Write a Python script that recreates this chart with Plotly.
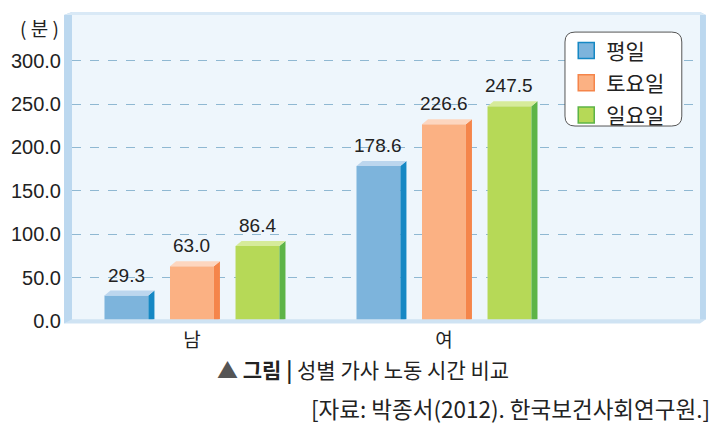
import plotly.graph_objects as go

groups = ["남", "여"]
series = ["평일", "토요일", "일요일"]
values = {
    "평일": [29.3, 178.6],
    "토요일": [63.0, 226.6],
    "일요일": [86.4, 247.5],
}
y_ticks = [0, 50, 100, 150, 200, 250, 300]

front = {"평일": "#7db4dc", "토요일": "#fbb183", "일요일": "#b6d957"}
side = {"평일": "#1688c4", "토요일": "#f5854a", "일요일": "#5db447"}
top = {"평일": "#bcd6ee", "토요일": "#fdd6bf", "일요일": "#d6eb9a"}

FONT = "Liberation Sans, Noto Sans CJK KR, sans-serif"
KFONT = "Noto Sans CJK KR, sans-serif"

bargap, groupgap = 0.22, 0.33
slot = (1 - bargap) / 3
bw = slot * (1 - groupgap)
dx, dy = 0.024, 5.8

fig = go.Figure()
xs = list(range(len(groups)))
for i, s in enumerate(series):
    fig.add_trace(go.Bar(
        name=s, x=xs, y=values[s], marker_color=front[s],
        marker_line_width=0, hoverinfo="skip", showlegend=False,
    ))

# 3D faces and value labels
for i, s in enumerate(series):
    for g, v in zip(xs, values[s]):
        c = g + (i - 1) * slot
        xl, xr = c - bw / 2, c + bw / 2
        fig.add_trace(go.Scatter(
            x=[xr, xr + dx, xr + dx, xr, xr], y=[0, dy * 0.3, v + dy, v, 0],
            fill="toself", fillcolor=side[s], line_width=0, mode="lines",
            showlegend=False, hoverinfo="skip"))
        fig.add_trace(go.Scatter(
            x=[xl, xl + dx, xr + dx, xr, xl], y=[v, v + dy, v + dy, v, v],
            fill="toself", fillcolor=top[s], line_width=0, mode="lines",
            showlegend=False, hoverinfo="skip"))
        fig.add_annotation(x=c, y=v + dy, text=f"{v:.1f}", showarrow=False,
                           yanchor="bottom", yshift=3,
                           font=dict(size=19, color="#222", family=FONT))

# legend entries
for s in series:
    fig.add_trace(go.Scatter(
        x=[None], y=[None], mode="markers", name=s, legendgroup=s,
        marker=dict(symbol="square", size=16, color=front[s],
                    line=dict(color=side[s], width=1.5))))

wall = "#bcd8ef"
shapes = [
    # left wall
    dict(type="path", xref="paper", yref="paper",
         path="M -0.0127,-0.008 L -0.0127,0.99 L 0,1 L 0,0 Z",
         fillcolor=wall, line_width=0, layer="below"),
    # right edge
    dict(type="path", xref="paper", yref="paper",
         path="M 1,0 L 1,1 L 1.0095,0.99 L 1.0095,0.005 Z",
         fillcolor=wall, line_width=0, layer="below"),
    # top edge
    dict(type="path", xref="paper", yref="paper",
         path="M -0.0127,0.99 L 0,1 L 1,1 L 1.0095,0.99 Z",
         fillcolor="#d9e9f6", line_width=0, layer="below"),
    # floor
    dict(type="path", xref="paper", yref="paper",
         path="M -0.0127,-0.008 L 1.0,-0.008 L 1.0095,0.006 L 0,0.006 Z",
         fillcolor="#cfe3f3", line_width=0, layer="above"),
    # legend box
    dict(type="path", xref="paper", yref="paper",
         path="M 0.801,0.935 L 0.955,0.935 Q 0.971,0.935 0.971,0.903 "
              "L 0.971,0.663 Q 0.971,0.631 0.955,0.631 L 0.801,0.631 "
              "Q 0.785,0.631 0.785,0.663 L 0.785,0.903 Q 0.785,0.935 0.801,0.935 Z",
         fillcolor="white", line=dict(color="#555", width=1), layer="above"),
]

# the page body has an 8px margin, so the figure is 8px smaller
fig.update_layout(
    width=720, height=427,
    margin=dict(l=64, r=28, t=4, b=114),
    paper_bgcolor="white", plot_bgcolor="#eef6fc",
    barmode="group", bargap=bargap, bargroupgap=groupgap,
    shapes=shapes,
    showlegend=True,
    legend=dict(x=0.787, y=0.941, xanchor="left", yanchor="top",
                bgcolor="rgba(0,0,0,0)", borderwidth=0,
                font=dict(size=21, color="#222", family=KFONT),
                itemsizing="trace", traceorder="grouped", tracegroupgap=2,
                itemwidth=30),
    xaxis=dict(range=[-0.476, 2.016], tickvals=xs, ticktext=groups,
               showgrid=False, zeroline=False, showline=False,
               ticks="", ticklabelstandoff=6,
               tickfont=dict(size=19, color="#222", family=KFONT), fixedrange=True),
    yaxis=dict(range=[0, 356], tickvals=y_ticks,
               ticktext=[f"{t:.1f}" for t in y_ticks],
               showgrid=True, gridcolor="#8fb8d2", griddash="dash", gridwidth=1,
               zeroline=False, showline=False, ticks="", ticklabelstandoff=10,
               tickfont=dict(size=20, color="#222", family=FONT), fixedrange=True),
)

fig.add_annotation(xref="paper", yref="paper", x=-0.051, y=0.951,
                   xanchor="center", yanchor="middle", text="( 분 )",
                   showarrow=False, font=dict(size=19, color="#222", family=KFONT))
fig.add_annotation(xref="paper", yref="paper", x=0.228, y=-0.155,
                   xanchor="left", yanchor="middle",
                   text="<span style='color:#555'>▲</span> <b>그림 |</b> 성별 가사 노동 시간 비교",
                   showarrow=False, font=dict(size=21, color="#222", family=KFONT))
fig.add_annotation(xref="paper", yref="paper", x=1.019, y=-0.282,
                   xanchor="right", yanchor="middle",
                   text="[자료: 박종서(2012). 한국보건사회연구원.]",
                   showarrow=False, font=dict(size=22.5, color="#222", family=KFONT))

fig.write_html("out.html")
